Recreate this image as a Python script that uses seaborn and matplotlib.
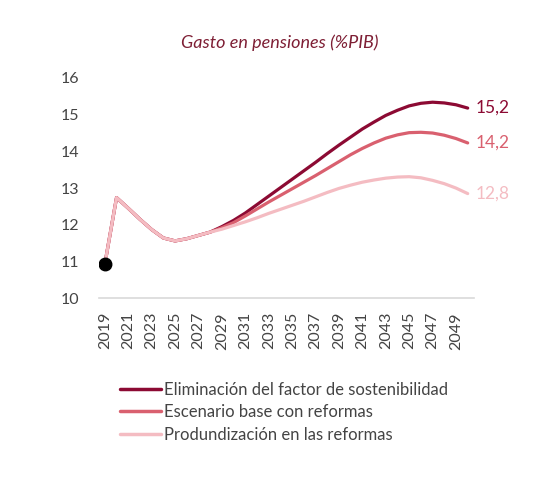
import numpy as np
import pandas as pd
import matplotlib
matplotlib.use("Agg")
import matplotlib.pyplot as plt
import seaborn as sns

years = list(range(2019, 2051))

common = [10.93, 12.74, 12.45, 12.15, 11.87, 11.64, 11.56, 11.62, 11.71, 11.80]

elim = common + [11.95, 12.12, 12.32, 12.55, 12.78, 13.01, 13.24, 13.47, 13.70, 13.94,
                 14.17, 14.39, 14.61, 14.80, 14.98, 15.12, 15.24, 15.31, 15.34, 15.32,
                 15.27, 15.18]
base = common + [11.92, 12.06, 12.24, 12.43, 12.62, 12.80, 12.98, 13.16, 13.34, 13.53,
                 13.72, 13.91, 14.08, 14.23, 14.36, 14.45, 14.51, 14.52, 14.50, 14.44,
                 14.35, 14.23]
prof = common + [11.88, 11.98, 12.08, 12.19, 12.31, 12.42, 12.53, 12.64, 12.76, 12.88,
                 12.99, 13.08, 13.16, 13.22, 13.27, 13.30, 13.31, 13.28, 13.21, 13.12,
                 13.00, 12.85]

series_names = ["Eliminación del factor de sostenibilidad",
                "Escenario base con reformas",
                "Produndización en las reformas"]
end_labels = ["15,2", "14,2", "12,8"]
colors = ["#8C0A33", "#D9606F", "#F4BCC2"]

df = pd.concat([
    pd.DataFrame({"year": years, "valor": vals, "escenario": name})
    for name, vals in zip(series_names, [elim, base, prof])
])

sns.set_style("white")
plt.rcParams["font.family"] = ["Lato", "DejaVu Sans"]

fig = plt.figure(figsize=(5.46, 4.88), dpi=100)
ax = fig.add_axes([0.1813, 0.389, 0.686, 0.4512])

# light series drawn last so it sits on top where the scenarios coincide
sns.lineplot(data=df, x="year", y="valor", hue="escenario",
             hue_order=series_names, palette=dict(zip(series_names, colors)),
             linewidth=2.3, ax=ax, legend=False)
ax.plot(years[0], common[0], "o", color="black", markersize=9, zorder=5)

for lab, vals, c in zip(end_labels, [elim, base, prof], colors):
    ax.annotate(lab, xy=(years[-1], vals[-1]), xytext=(6, 0), textcoords="offset points",
                va="center", ha="left", color=c, fontsize=12.5)

ax.set_xlim(2018.5, 2050.5)
ax.set_ylim(10, 16)
ax.set_yticks(range(10, 17))
ax.set_xticks(years[::2])
ax.set_xticklabels([str(y) for y in years[::2]], rotation=90)
ax.tick_params(axis="x", length=0, pad=10, labelsize=11.5, labelcolor="#444444")
ax.tick_params(axis="y", length=0, pad=14, labelsize=11.5, labelcolor="#444444")
ax.set_xlabel("")
ax.set_ylabel("")
for s in ["top", "right", "left"]:
    ax.spines[s].set_visible(False)
ax.spines["bottom"].set_color("#D9D9D9")
ax.spines["bottom"].set_linewidth(1.2)

fig.text(0.513, 0.912, "Gasto en pensiones (%PIB)", ha="center", va="center",
         style="italic", color="#7E1F35", fontsize=13)

handles = [plt.Line2D([0], [0], color=c, linewidth=2.5) for c in colors]
fig.legend(handles, series_names, loc="upper left", bbox_to_anchor=(0.219, 0.218),
           frameon=False, handlelength=2.5, handletextpad=0.15, labelspacing=0.4,
           borderpad=0, borderaxespad=0, fontsize=12, labelcolor="#444444")

fig.savefig("out.png", dpi=100)
